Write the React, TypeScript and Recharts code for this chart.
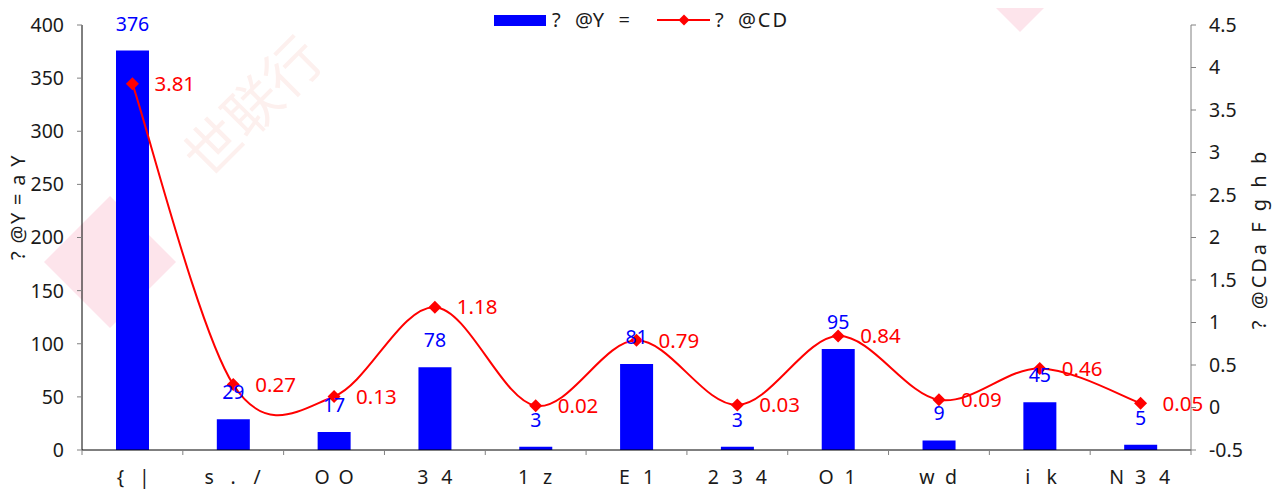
import React from 'react';
import { ComposedChart, Bar, Line, XAxis, YAxis, LabelList } from 'recharts';

// ---------- data ----------
const categories = ['{|', 's./', 'OO', '34', '1z', 'E1', '234', 'O1', 'wd', 'ik', 'N34'];
const countValues = [376, 29, 17, 78, 3, 81, 3, 95, 9, 45, 5];
const rateValues = [3.81, 0.27, 0.13, 1.18, 0.02, 0.79, 0.03, 0.84, 0.09, 0.46, 0.05];
const leftTicks = [0, 50, 100, 150, 200, 250, 300, 350, 400];
const rightTicks = [-0.5, 0, 0.5, 1, 1.5, 2, 2.5, 3, 3.5, 4, 4.5];
const barName = '? @Y =';
const lineName = '? @CD';
const leftTitle = '? @Y = a Y';
const rightTitle = '? @CDa F g h b';

const data = categories.map((c, i) => ({ cat: c, count: countValues[i], rate: rateValues[i] }));

// ---------- layout ----------
const CHART_W = 1273;
const CHART_H = 482;
const LEFT_W = 74;
const RIGHT_W = 90;
const X_H = 40;
const TOP = 17;
const X_TICK_SIZE = 6;
const X_TICK_MARGIN = 14;
const BAND = (CHART_W - LEFT_W - RIGHT_W) / categories.length;
const PITCH = 24;
const PAD = 8;
const FONT = "'Noto Sans', 'Liberation Sans', Arial, sans-serif";
const BLUE = '#0000FF';
const RED = '#FF0000';
const TEXT = '#1a1a1a';

// Excel-like smoothed line (cardinal / Catmull-Rom style bezier)
const smoothCurve = (context: any) => {
  let pts: number[][] = [];
  return {
    areaStart() {},
    areaEnd() {},
    lineStart() {
      pts = [];
    },
    point(x: number, y: number) {
      pts.push([+x, +y]);
    },
    lineEnd() {
      const n = pts.length;
      if (!n) return;
      context.moveTo(pts[0][0], pts[0][1]);
      for (let i = 0; i < n - 1; i++) {
        const p0 = pts[Math.max(i - 1, 0)];
        const p1 = pts[i];
        const p2 = pts[i + 1];
        const p3 = pts[Math.min(i + 2, n - 1)];
        context.bezierCurveTo(
          p1[0] + (p2[0] - p0[0]) / 6,
          p1[1] + (p2[1] - p0[1]) / 6,
          p2[0] - (p3[0] - p1[0]) / 6,
          p2[1] - (p3[1] - p1[1]) / 6,
          p2[0],
          p2[1]
        );
      }
    },
  };
};

const Diamond = (props: any) => {
  const { cx, cy, index } = props;
  if (cx == null || cy == null) return <g key={`d${index}`} />;
  const r = 6.5;
  return (
    <path
      key={`d${index}`}
      d={`M${cx},${cy - r}L${cx + r},${cy}L${cx},${cy + r}L${cx - r},${cy}Z`}
      fill={RED}
    />
  );
};

const CatTick = (props: any) => {
  const { x, y, payload, index } = props;
  const chars = Array.from(String(payload.value));
  const axisY = y - X_TICK_SIZE - X_TICK_MARGIN;
  return (
    <g>
      <line x1={x - BAND / 2} x2={x - BAND / 2} y1={axisY} y2={axisY + 5} stroke="#808080" />
      {index === categories.length - 1 && (
        <line x1={x + BAND / 2} x2={x + BAND / 2} y1={axisY} y2={axisY + 5} stroke="#808080" />
      )}
      {chars.map((ch, i) => (
        <text
          key={i}
          x={x + (i - (chars.length - 1) / 2) * PITCH}
          y={y}
          dy="0.71em"
          textAnchor="middle"
          fontSize={19.5}
          fill={TEXT}
          fontFamily={FONT}
        >
          {ch}
        </text>
      ))}
    </g>
  );
};

const diamondPath = (cx: number, cy: number, r: number) =>
  `M${cx},${cy - r}L${cx + r},${cy}L${cx},${cy + r}L${cx - r},${cy}Z`;

export default function App() {
  return (
    <div style={{ position: 'relative', width: CHART_W, height: CHART_H, fontFamily: FONT }}>
      {/* faint watermark decorations */}
      <svg
        width={CHART_W}
        height={CHART_H}
        style={{ position: 'absolute', left: 0, top: 0 }}
      >
        <path d={diamondPath(102, 254, 66)} fill="#fde4eb" />
        <path d={diamondPath(1012, -14, 38)} fill="#fde4eb" />
        <text
          transform="translate(242,96) rotate(-45)"
          textAnchor="middle"
          dominantBaseline="central"
          fontSize={56}
          fill="#fdf0ee"
          fontFamily="'Noto Sans CJK SC', sans-serif"
        >
          世联行
        </text>
      </svg>

      <div style={{ position: 'absolute', left: 0, top: 0 }}>
        <ComposedChart
          width={CHART_W}
          height={CHART_H}
          data={data}
          margin={{ top: TOP, right: 0, bottom: 0, left: 0 }}
          style={{ fontFamily: FONT }}
        >
          <XAxis
            dataKey="cat"
            height={X_H}
            interval={0}
            tickLine={false}
            tickSize={X_TICK_SIZE}
            tickMargin={X_TICK_MARGIN}
            axisLine={{ stroke: '#000000', strokeWidth: 1 }}
            tick={<CatTick />}
          />
          <YAxis
            yAxisId="left"
            orientation="left"
            width={LEFT_W}
            domain={[0, 400]}
            ticks={leftTicks}
            interval={0}
            tickSize={5}
            tickMargin={13}
            axisLine={{ stroke: '#000000' }}
            tickLine={{ stroke: '#808080' }}
            tick={{ fill: TEXT, fontSize: 19.5, fontFamily: FONT }}
          />
          <YAxis
            yAxisId="right"
            orientation="right"
            width={RIGHT_W}
            domain={[-0.5, 4.5]}
            ticks={rightTicks}
            interval={0}
            tickSize={5}
            tickMargin={13}
            axisLine={{ stroke: '#808080' }}
            tickLine={{ stroke: '#808080' }}
            tick={{ fill: TEXT, fontSize: 19.5, fontFamily: FONT }}
          />
          <Bar
            yAxisId="left"
            dataKey="count"
            name={barName}
            fill={BLUE}
            barSize={33}
            isAnimationActive={false}
          >
            <LabelList
              dataKey="count"
              position="top"
              offset={20}
              fill={BLUE}
              fontSize={19.5}
              fontFamily={FONT}
            />
          </Bar>
          <Line
            yAxisId="right"
            dataKey="rate"
            name={lineName}
            type={smoothCurve as any}
            stroke={RED}
            strokeWidth={2}
            dot={Diamond}
            activeDot={false}
            isAnimationActive={false}
          >
            <LabelList
              dataKey="rate"
              position="right"
              offset={22}
              fill={RED}
              fontSize={20.5}
              fontFamily={FONT}
            />
          </Line>
        </ComposedChart>
      </div>

      {/* legend and axis titles (svg extends into the body margin so no glyph box is clipped) */}
      <svg
        width={CHART_W + 2 * PAD}
        height={CHART_H + 2 * PAD}
        style={{ position: 'absolute', left: -PAD, top: -PAD, pointerEvents: 'none', overflow: 'visible' }}
        fontFamily={FONT}
      >
        <g transform={`translate(${PAD},${PAD})`}>
          <rect x={486} y={7} width={52} height={11} fill={BLUE} />
          <text
            x={544}
            y={19}
            fontSize={20}
            fill={TEXT}
            style={{ whiteSpace: 'pre' }}
            wordSpacing={9}
          >
            {barName}
          </text>
          <line x1={649} x2={702} y1={12} y2={12} stroke={RED} strokeWidth={2} />
          <path d={diamondPath(676, 12, 5.5)} fill={RED} />
          <text
            x={707}
            y={19}
            fontSize={20}
            fill={TEXT}
            style={{ whiteSpace: 'pre' }}
            wordSpacing={5}
            letterSpacing={2}
          >
            {lineName}
          </text>
          <text
            transform="translate(17,199) rotate(-90)"
            textAnchor="middle"
            fontSize={20}
            fill={TEXT}
            letterSpacing={1.3}
            style={{ whiteSpace: 'pre' }}
          >
            {leftTitle}
          </text>
          <text
            transform="translate(1258,231) rotate(-90)"
            textAnchor="middle"
            fontSize={20}
            fill={TEXT}
            letterSpacing={3}
            style={{ whiteSpace: 'pre' }}
          >
            {rightTitle}
          </text>
        </g>
      </svg>
    </div>
  );
}
